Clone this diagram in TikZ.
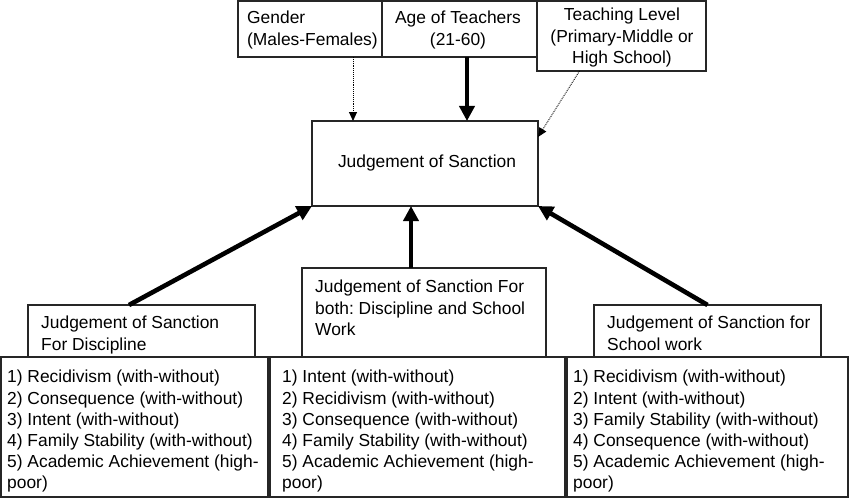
\documentclass[tikz,border=0pt]{standalone}
\usepackage{fontspec}
\setmainfont{Liberation Sans}
\usetikzlibrary{arrows.meta}
\frenchspacing
\begin{document}
\begin{tikzpicture}[x=1pt,y=-1pt,
  box/.style={draw=black!85, line width=1.3pt, inner sep=0pt, outer sep=0pt, anchor=north west},
  txt/.style={inner sep=0pt, anchor=north west, align=left, font={\frenchspacing\fontsize{17.4}{21.2}\selectfont}},
  ctxt/.style={inner sep=0pt, align=center, font={\frenchspacing\fontsize{17.4}{21.2}\selectfont}},
  thick arrow/.style={line width=4.6pt, -{Triangle[width=15pt,length=15pt]}},
  dot arrow/.style={line width=0.9pt, densely dotted, -{Triangle[width=8pt,length=9pt]}}]
\useasboundingbox (0,0) rectangle (850,500);
% boxes
\node[box, minimum width=144pt, minimum height=56pt] (gender) at (238,1) {};
\node[box, minimum width=155pt, minimum height=56pt] (age) at (382,1) {};
\node[box, minimum width=169pt, minimum height=70pt] (teach) at (537,1) {};
\node[box, minimum width=226pt, minimum height=85pt] (jos) at (312,121) {};
\node[box, minimum width=227pt, minimum height=52pt] (disc) at (28,305) {};
\node[box, minimum width=244pt, minimum height=89pt] (both) at (302,268) {};
\node[box, minimum width=227pt, minimum height=52pt] (school) at (594,305) {};
\node[box, minimum width=267pt, minimum height=140pt] (list1) at (1,357) {};
\node[box, minimum width=295pt, minimum height=140pt] (list2) at (270,357) {};
\node[box, minimum width=281pt, minimum height=140pt] (list3) at (567,357) {};
% texts
\node[txt] (tgender) at (247,11) {Gender\\(Males-Females)};
\node[ctxt, anchor=north] (tage) at (458,11) {Age of Teachers\\(21-60)};
\node[ctxt, anchor=north] (tteach) at (622,8) {Teaching Level\\(Primary-Middle or\\High School)};
\node[ctxt] (tjos) at (427,163) {Judgement of Sanction};
\node[txt] (tdisc) at (41,316) {Judgement of Sanction\\For Discipline};
\node[txt] (tboth) at (315,280) {Judgement of Sanction For\\both: Discipline and School\\Work};
\node[txt] (tschool) at (607,316) {Judgement of Sanction for\\School work};
\node[txt] (tlist1) at (7,370) {1) Recidivism (with-without)\\2) Consequence (with-without)\\3) Intent (with-without)\\4) Family Stability (with-without)\\5) Academic Achievement (high-\\poor)};
\node[txt] (tlist2) at (282,370) {1) Intent (with-without)\\2) Recidivism (with-without)\\3) Consequence (with-without)\\4) Family Stability (with-without)\\5) Academic Achievement (high-\\poor)};
\node[txt] (tlist3) at (573,370) {1) Recidivism (with-without)\\2) Intent (with-without)\\3) Family Stability (with-without)\\4) Consequence (with-without)\\5) Academic Achievement (high-\\poor)};
% connectors
\draw[dot arrow] ([xshift=43pt]gender.south) -- ([xshift=43pt]gender.south |- jos.north);
\draw[thick arrow] ([xshift=7.5pt]age.south) -- ([xshift=7.5pt]age.south |- jos.north);
\draw[dot arrow] ([xshift=-42pt]teach.south) -- ([yshift=-16pt]jos.north east);
\draw[thick arrow] ([xshift=-12.5pt]disc.north) -- (jos.south west);
\draw[thick arrow] ([xshift=-13pt]both.north) -- ([xshift=-13pt]both.north |- jos.south);
\draw[thick arrow] (school.north) -- (jos.south east);
\end{tikzpicture}
\end{document}
